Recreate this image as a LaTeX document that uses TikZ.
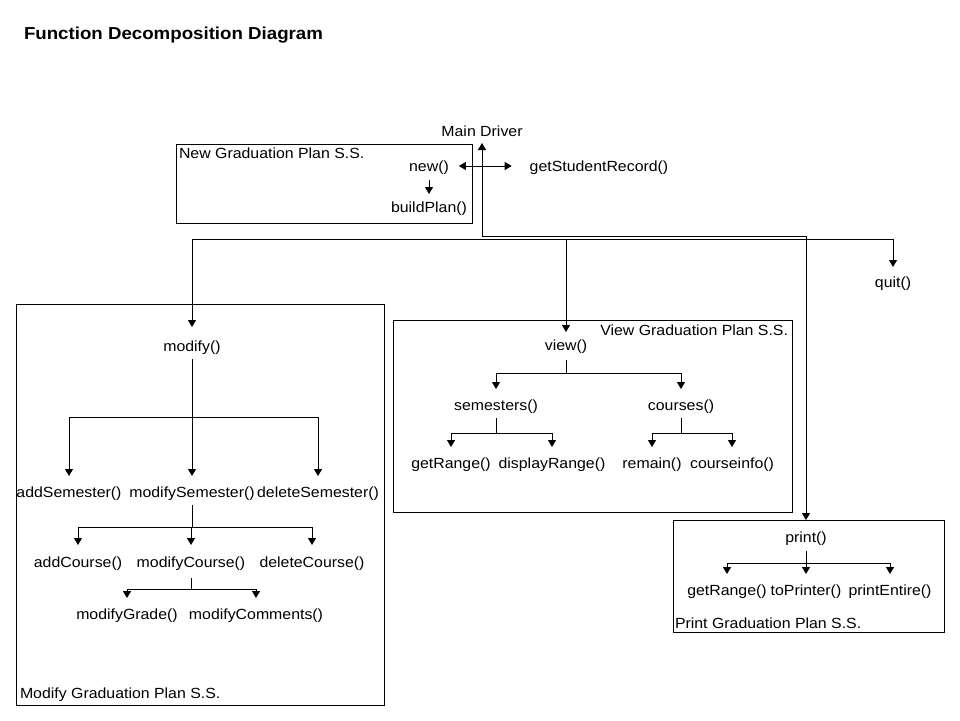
\documentclass[tikz,border=0pt]{standalone}
\usepackage{fontspec}
\setmainfont{Liberation Sans}[FakeStretch=1.08]
\usetikzlibrary{arrows.meta}
\begin{document}
\begin{tikzpicture}[x=1pt,y=-1pt,
  every node/.style={font=\fontsize{14.7}{17}\selectfont, inner sep=0pt, outer sep=0pt},
  txt/.style={anchor=base},
  box/.style={draw, line width=1pt, anchor=north west},
  ln/.style={line width=1pt},
  arr/.style={line width=1pt, -{Triangle[width=8pt,length=7pt]}},
  darr/.style={line width=1pt, {Triangle[width=8pt,length=7pt]}-{Triangle[width=8pt,length=7pt]}},
]
\useasboundingbox (0,0) rectangle (960,720);
\fill[white] (0,0) rectangle (960,720);

% title
\node[anchor=base west, font={\fontsize{17.3}{20}\selectfont\bfseries}] (title) at (24,39) {Function Decomposition Diagram};

% boxes
\node[box, minimum width=296pt, minimum height=79pt] (newbox) at (176,144) {};
\node[box, minimum width=368pt, minimum height=401pt] (modbox) at (16,304) {};
\node[box, minimum width=399pt, minimum height=192pt] (viewbox) at (393,320) {};
\node[box, minimum width=271pt, minimum height=112pt] (prbox) at (673,520) {};

% box labels
\node[anchor=base west] (newlbl) at (179,158) {New Graduation Plan S.S.};
\node[anchor=base west] (modlbl) at (20,698) {Modify Graduation Plan S.S.};
\node[anchor=base east] (viewlbl) at (788,335) {View Graduation Plan S.S.};
\node[anchor=base west] (prlbl) at (675,628) {Print Graduation Plan S.S.};

% function texts
\node[txt] (maindrv) at (482,136) {Main Driver};
\node[txt] (new) at (429,171) {new()};
\node[txt] (gsr) at (599,171) {getStudentRecord()};
\node[txt] (build) at (429,212) {buildPlan()};
\node[txt] (quit) at (893,287) {quit()};

\node[txt] (modify) at (192,351) {modify()};
\node[txt] (addSem) at (69,497) {addSemester()};
\node[txt] (modSem) at (192,497) {modifySemester()};
\node[txt] (delSem) at (318,497) {deleteSemester()};
\node[txt] (addC) at (78,567) {addCourse()};
\node[txt] (modC) at (191,567) {modifyCourse()};
\node[txt] (delC) at (312,567) {deleteCourse()};
\node[txt] (modG) at (127,619) {modifyGrade()};
\node[txt] (modCm) at (256,619) {modifyComments()};

\node[txt] (view) at (566,350) {view()};
\node[txt] (sem) at (496,410) {semesters()};
\node[txt] (crs) at (681,410) {courses()};
\node[txt] (gr1) at (451,468) {getRange()};
\node[txt] (dr) at (552,468) {displayRange()};
\node[txt] (rem) at (652,468) {remain()};
\node[txt] (ci) at (732,468) {courseinfo()};

\node[txt] (print) at (806,542) {print()};
\node[txt] (gr2) at (727,595) {getRange()};
\node[txt] (tp) at (806,595) {toPrinter()};
\node[txt] (pe) at (890,595) {printEntire()};

% main driver connectors
\coordinate (cA) at (482,236);
\coordinate (cP) at (806,236);
\draw[arr] (cA) -- ([yshift=-7pt]maindrv.base);
\draw[arr] (cA) -- (cP) -- (cP |- prbox.north);
\draw[darr] ([xshift=10pt,yshift=5pt]new.base east) -- ([xshift=-18pt,yshift=5pt]gsr.base west);
\draw[arr] ([yshift=-9pt]new.base) -- ([yshift=18pt]build.base);

\coordinate (bL) at (192,239);
\coordinate (bV) at (566,239);
\coordinate (bR) at (893,239);
\draw[ln] (bL) -- (bR);
\draw[arr] (bL) -- ([yshift=24pt]modify.base);
\draw[arr] (bV) -- ([yshift=18pt]view.base);
\draw[arr] (bR) -- ([yshift=20pt]quit.base);

% modify tree
\coordinate (jm) at (192,417);
\draw[ln] ([yshift=-8pt]modify.base) -- (jm);
\draw[arr] (jm) -| ([yshift=21pt]addSem.base);
\draw[arr] (jm) -- ([yshift=21pt]modSem.base);
\draw[arr] (jm) -| ([yshift=21pt]delSem.base);

\coordinate (js) at (192,527);
\draw[ln] ([yshift=-8pt]modSem.base) -- (js);
\draw[arr] (js) -| ([yshift=22pt]addC.base);
\draw[arr] (js) -| ([yshift=22pt]modC.base);
\draw[arr] (js) -| ([yshift=22pt]delC.base);

\coordinate (jc) at (191,589);
\draw[ln] ([yshift=-11pt]modC.base) -- (jc);
\draw[arr] (jc) -| ([yshift=21pt]modG.base);
\draw[arr] (jc) -| ([yshift=21pt]modCm.base);

% view tree
\coordinate (jv) at (566,373);
\draw[ln] ([yshift=-10pt]view.base) -- (jv);
\draw[arr] (jv) -| ([yshift=21pt]sem.base);
\draw[arr] (jv) -| ([yshift=21pt]crs.base);

\coordinate (jse) at (496,433);
\draw[ln] ([yshift=-8pt]sem.base) -- (jse);
\draw[arr] (jse) -| ([yshift=21pt]gr1.base);
\draw[arr] (jse) -| ([yshift=21pt]dr.base);

\coordinate (jcr) at (681,433);
\draw[ln] ([yshift=-8pt]crs.base) -- (jcr);
\draw[arr] (jcr) -| ([yshift=21pt]rem.base);
\draw[arr] (jcr) -| ([yshift=21pt]ci.base);

% print tree
\coordinate (jp) at (806,563);
\draw[ln] ([yshift=-9pt]print.base) -- (jp);
\draw[arr] (jp) -| ([yshift=21pt]gr2.base);
\draw[arr] (jp) -- ([yshift=21pt]tp.base);
\draw[arr] (jp) -| ([yshift=21pt]pe.base);
\end{tikzpicture}
\end{document}
